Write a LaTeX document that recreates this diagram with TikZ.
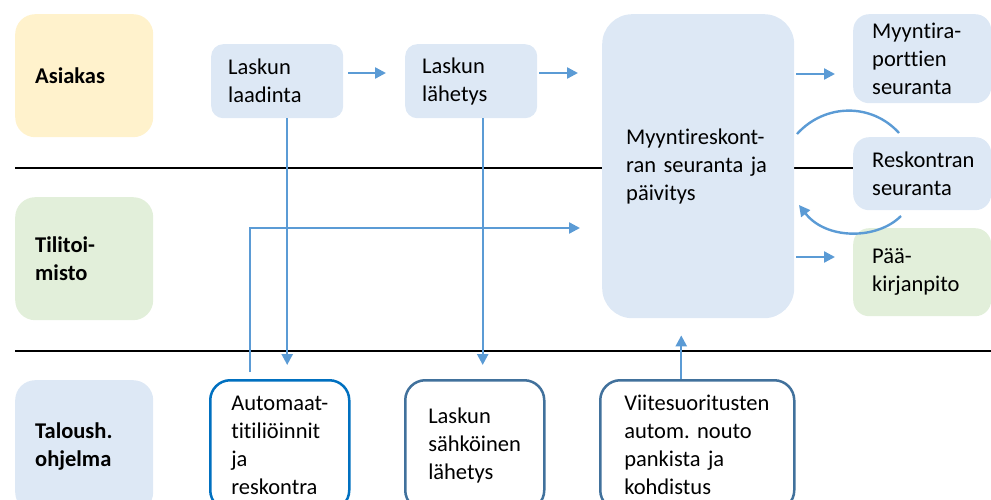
\documentclass[tikz,border=0pt]{standalone}
\usepackage{fontspec}
\setmainfont{Carlito}[Ligatures=NoCommon]
\usepackage{xcolor}
\definecolor{paleblue}{RGB}{221,232,245}
\definecolor{paleyellow}{RGB}{255,242,204}
\definecolor{palegreen}{RGB}{226,239,218}
\definecolor{flowblue}{RGB}{91,155,213}
\definecolor{steelblue}{RGB}{65,113,156}
\definecolor{brightblue}{RGB}{0,112,192}
\usepackage{tikz}
\usetikzlibrary{arrows.meta,positioning,calc}
\frenchspacing
\hyphenpenalty=10000
\exhyphenpenalty=10000
\tikzset{
  >={Triangle[length=11pt,width=11pt]},
  txt/.style={font=\fontsize{22.5}{28}\selectfont,align=left,anchor=north west},
  lane/.style={txt,font=\fontsize{22.5}{28}\selectfont\bfseries,rounded corners=20pt,minimum width=138pt,inner xsep=20pt,text width=98pt},
  task/.style={txt,fill=paleblue,rounded corners=12pt,minimum width=132pt,minimum height=74pt,inner xsep=17pt,text width=98pt},
  report/.style={txt,fill=paleblue,rounded corners=16pt,minimum width=138pt,inner xsep=19pt,text width=100pt},
  sysbox/.style={txt,draw,fill=white,line width=2.5pt,rounded corners=20pt,minimum height=130pt},
  divider/.style={draw=black,line width=1.6pt},
  flow/.style={->,draw=flowblue,line width=2.4pt},
  loop/.style={draw=flowblue,line width=2.4pt}
}

\begin{document}
\begin{tikzpicture}[x=1pt,y=-1pt]
  \useasboundingbox (0,0) rectangle (991,500);
  \clip (0,0) rectangle (991,500);

  % Lane dividers
  \draw[divider] (15,168) coordinate (d1a) -- (991,168) coordinate (d1b);
  \draw[divider] (15,351) coordinate (d2a) -- (991,351) coordinate (d2b);

  % Lanes
  \node[lane,fill=paleyellow,minimum height=123pt] (asiakas) at (15,14) {Asiakas};
  \node[lane,fill=palegreen,minimum height=123pt] (tilitoimisto) at (15,197) {Tilitoi-\\misto};
  \node[lane,fill=paleblue,minimum height=132pt] (ohjelma) at (15,380) {Taloush.\\ohjelma};

  % Customer steps
  \node[task] (laadinta) at (211,44) {Laskun\\laadinta};
  \node[task] (lahetys) at (405,44) {Laskun\\lähetys};

  % Ledger
  \node[txt,fill=paleblue,rounded corners=30pt,minimum width=192pt,minimum height=304pt,inner xsep=24pt,text width=144pt] (ledger) at (602,14) {Myyntireskont-\\ran seuranta ja\\päivitys};

  % Reports
  \node[report,minimum height=89pt] (raportit) at (853,14) {Myyntira-\\porttien\\seuranta};
  \node[report,minimum height=73pt] (reskontra) at (853,137) {Reskontran\\seuranta};
  \node[report,fill=palegreen,minimum height=88pt] (paakirja) at (853,228) {Pää-\\kirjanpito};

  % Software
  \node[sysbox,draw=brightblue,minimum width=139pt,inner xsep=21pt,text width=97pt] (autom) at (209,379) {Automaat-\\titiliöinnit\\ja\\reskontra};
  \node[sysbox,draw=steelblue,minimum width=139pt,inner xsep=23pt,text width=93pt] (sahkoinen) at (404,379) {Laskun\\sähköinen\\lähetys};
  \node[sysbox,draw=steelblue,minimum width=194pt,inner xsep=24pt,text width=146pt] (viite) at (599,379) {Viitesuoritusten\\autom. nouto\\pankista ja\\kohdistus};

  % Flows
  \draw[flow,shorten <=5pt,shorten >=19pt] (laadinta.east |- 0,73) -- (lahetys.west |- 0,73);
  \draw[flow,shorten <=2pt,shorten >=24pt] (lahetys.east |- 0,73) -- (ledger.west |- 0,73);
  \draw[flow,shorten <=2pt,shorten >=18pt] (ledger.east |- 0,74) -- (raportit.west |- 0,74);
  \draw[flow,shorten <=2pt,shorten >=18pt] (ledger.east |- 0,257) -- (paakirja.west |- 0,257);
  \draw[flow,shorten >=14pt] ([xshift=10pt]laadinta.south) -- ([xshift=10pt]laadinta.south |- autom.north);
  \draw[flow,shorten >=14pt] ([xshift=11.5pt]lahetys.south) -- ([xshift=11.5pt]lahetys.south |- sahkoinen.north);
  \draw[flow,shorten <=7pt,shorten >=22pt] ([xshift=-29.5pt]autom.north) |- (ledger.west |- 0,228);
  \draw[flow,shorten >=17pt] ([xshift=-16pt]viite.north) -- ([xshift=-16pt]viite.north |- ledger.south);

  % Reconciliation loop
  \coordinate (loopa) at (797,134);
  \coordinate (loopb) at (899,133);
  \coordinate (loopc) at (901,216);
  \coordinate (loopd) at (799,205);
  \draw[loop] (loopa) .. controls (825,103) and (872,103) .. (loopb);
  \draw[flow] (loopc) .. controls (877,240) and (826,240) .. (loopd);
\end{tikzpicture}
\end{document}
